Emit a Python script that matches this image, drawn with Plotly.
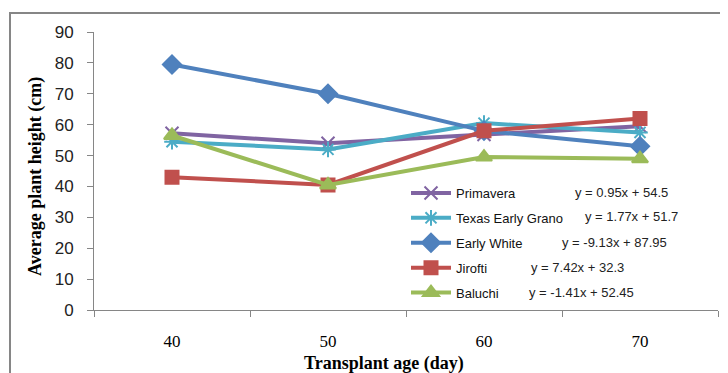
import plotly.graph_objects as go

ages = [40, 50, 60, 70]
primavera = [57.2, 54.0, 56.8, 59.5]
texas = [54.5, 52.0, 60.5, 57.5]
early_white = [79.5, 70.0, 58.0, 53.0]
jirofti = [43.0, 40.5, 58.0, 62.0]
baluchi = [56.5, 40.5, 49.5, 49.0]

names = ["Primavera", "Texas Early Grano", "Early White", "Jirofti", "Baluchi"]
equations = ["y = 0.95x + 54.5", "y = 1.77x + 51.7", "y = -9.13x + 87.95",
             "y = 7.42x + 32.3", "y = -1.41x + 52.45"]
series = [primavera, texas, early_white, jirofti, baluchi]
colors = ["#8064A2", "#4BACC6", "#4F81BD", "#C0504D", "#9BBB59"]
symbols = ["x-thin", "asterisk", "diamond", "square", "triangle-up"]
sizes = [13, 13, 14, 13, 14]

fig = go.Figure()
for n, s, c, sym, sz in zip(names, series, colors, symbols, sizes):
    fig.add_trace(go.Scatter(
        x=ages, y=s, name=n, mode="lines+markers", legendgroup=n,
        line=dict(color=c, width=4),
        marker=dict(symbol=sym, size=sz, color=c, line=dict(color=c, width=2)),
    ))

# layout geometry (page pixels); the page body adds an 8px offset
W, H = 728, 373
OFF = 8
PL, PR, PT, PB = 94, 718, 32, 310          # plot area in page pixels
L, T = PL - OFF, PT - OFF
R = W - (PR - OFF)
B = H - (PB - OFF)
pw, ph = PR - PL, PB - PT

def px(x):
    return (x - PL) / pw

def py(y):
    return (PB - y) / ph

eq_pos = [(573, 192), (583, 216), (560, 243), (529, 267), (527, 292)]
annotations = []
for txt, (ex, ey) in zip(equations, eq_pos):
    annotations.append(dict(
        text=txt, x=px(ex), y=py(ey), xref="paper", yref="paper",
        xanchor="left", yanchor="middle", showarrow=False,
        font=dict(family="Liberation Sans", size=13, color="#222222")))

annotations.append(dict(
    text="<b>Average plant height (cm)</b>", x=px(35), y=py(177),
    xref="paper", yref="paper", textangle=-90, showarrow=False,
    xanchor="center", yanchor="middle",
    font=dict(family="Liberation Serif", size=18, color="#000000")))
annotations.append(dict(
    text="<b>Transplant age (day)</b>", x=px(384), y=py(351),
    xref="paper", yref="paper", showarrow=False,
    xanchor="center", yanchor="top",
    font=dict(family="Liberation Serif", size=18, color="#000000")))

fig.update_layout(
    width=W, height=H,
    margin=dict(l=L, r=R, t=T, b=B),
    paper_bgcolor="white", plot_bgcolor="white",
    showlegend=True,
    legend=dict(x=px(406), y=py(178), xanchor="left", yanchor="top",
                bgcolor="rgba(0,0,0,0)", tracegroupgap=5, itemwidth=40,
                font=dict(family="Liberation Sans", size=13, color="#111111")),
    annotations=annotations,
    shapes=[dict(type="rect", xref="paper", yref="paper",
                 x0=px(10), x1=px(760), y0=py(13), y1=py(420),
                 line=dict(color="#868686", width=2), layer="below")],
    xaxis=dict(range=[35, 75], tickmode="array", tickvals=ages,
               ticktext=[str(a) for a in ages], ticks="",
               showgrid=False, zeroline=False, showline=True,
               linecolor="#868686", linewidth=1,
               minor=dict(tickmode="array", tickvals=[35, 45, 55, 65, 75],
                          ticks="outside", ticklen=6, tickcolor="#868686"),
               ticklabelstandoff=16,
               tickfont=dict(family="Liberation Serif", size=17, color="#000000")),
    yaxis=dict(range=[0, 90], dtick=10, ticks="outside", ticklen=6,
               tickcolor="#868686", showgrid=False, zeroline=False,
               showline=True, linecolor="#868686", linewidth=1,
               ticklabelstandoff=10,
               tickfont=dict(family="Liberation Sans", size=17, color="#222222")),
)

fig.write_html("out.html")
